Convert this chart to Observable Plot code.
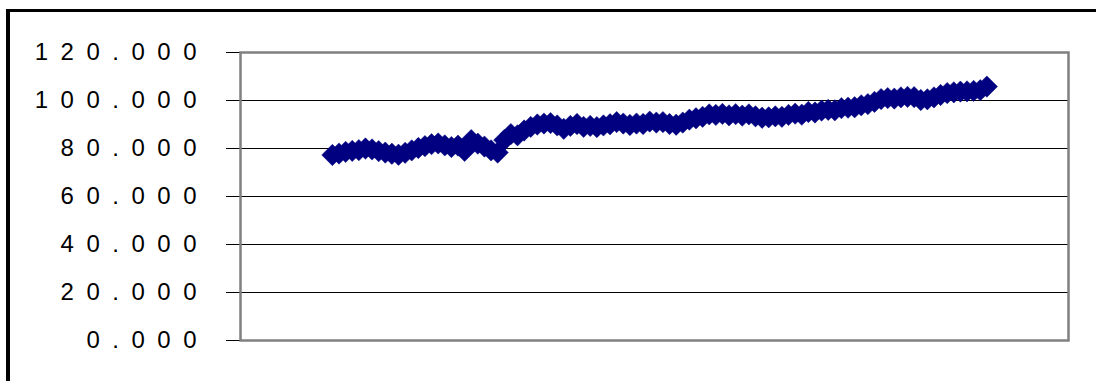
<!DOCTYPE html>
<html>
<head>
<meta charset="utf-8">
<script src="https://cdn.jsdelivr.net/npm/d3@7"></script>
<script src="https://cdn.jsdelivr.net/npm/@observablehq/plot@0.6"></script>
<style>
  html, body { margin: 0; padding: 0; background: #fff; }
  #wrap { position: absolute; left: 0; top: 0; width: 1096px; height: 381px; overflow: hidden; background: #fff; }
  #border { position: absolute; left: 6px; top: 9px; width: 1300px; height: 600px; border-style: solid; border-color: #000; border-width: 3px 0 0 4px; pointer-events: none; }
  #wrap svg text { letter-spacing: 12.5px; }
</style>
</head>
<body>
<div id="wrap"><div id="border"></div></div>
<script>
// Series values (one per observation, left to right)
const values = [
  77.3, 77.9, 78.6, 79.0, 79.3, 80.0, 79.6, 78.9, 78.3, 77.8,
  77.4, 78.2, 79.2, 80.2, 81.0, 81.8, 82.1, 81.3, 80.6, 81.2,
  79.0, 83.5, 82.0, 80.8, 79.2, 78.3, 83.5, 86.0, 85.5, 87.5,
  89.0, 90.0, 90.4, 90.6, 89.6, 88.2, 89.4, 90.2, 89.0, 89.4,
  88.9, 89.6, 90.1, 91.0, 90.4, 89.8, 90.4, 90.2, 91.2, 90.8,
  91.0, 90.2, 89.9, 90.8, 92.0, 92.6, 93.2, 94.2, 94.0, 94.4,
  93.8, 94.3, 93.7, 94.2, 93.4, 92.8, 93.0, 93.4, 93.2, 94.0,
  94.5, 94.1, 95.2, 95.0, 95.8, 96.1, 95.9, 96.8, 97.0, 97.2,
  98.0, 98.5, 99.4, 100.6, 101.0, 100.8, 101.3, 101.5, 101.4, 100.2,
  100.5, 101.3, 102.3, 103.1, 103.4, 103.7, 103.8, 104.0, 104.3, 105.8
];
const positions = values.map((_, i) => i);
const yTicks = [0, 20, 40, 60, 80, 100, 120];
const yTickLabels = ["0.000", "20.000", "40.000", "60.000", "80.000", "100.000", "120.000"];

const data = positions.map((p, i) => ({p, v: values[i]}));

const chart = Plot.plot({
  width: 1096,
  height: 381,
  marginLeft: 240,
  marginRight: 28,
  marginTop: 52,
  marginBottom: 41,
  style: {fontFamily: "'Liberation Sans', Arial, sans-serif", background: "transparent", color: "#000", overflow: "visible"},
  x: {domain: [-13.9, 111.35], axis: null},
  y: {domain: [0, 120]},
  marks: [
    Plot.ruleY(yTicks, {stroke: "#000", strokeWidth: 1}),
    Plot.axisY({
      ticks: yTicks,
      tickFormat: d => yTickLabels[yTicks.indexOf(d)],
      tickSize: 14,
      tickPadding: 17.5,
      fontSize: 24,
      label: null,
      stroke: "#000"
    }),
    Plot.frame({stroke: "#808080", strokeWidth: 2.5}),
    Plot.line(data, {x: "p", y: "v", stroke: "#000080", strokeWidth: 4}),
    Plot.dot(data, {x: "p", y: "v", symbol: "diamond2", r: 9.6, fill: "#000080", stroke: "#000080", strokeWidth: 0.5})
  ]
});
document.getElementById("wrap").insertBefore(chart, document.getElementById("border"));
</script>
</body>
</html>
